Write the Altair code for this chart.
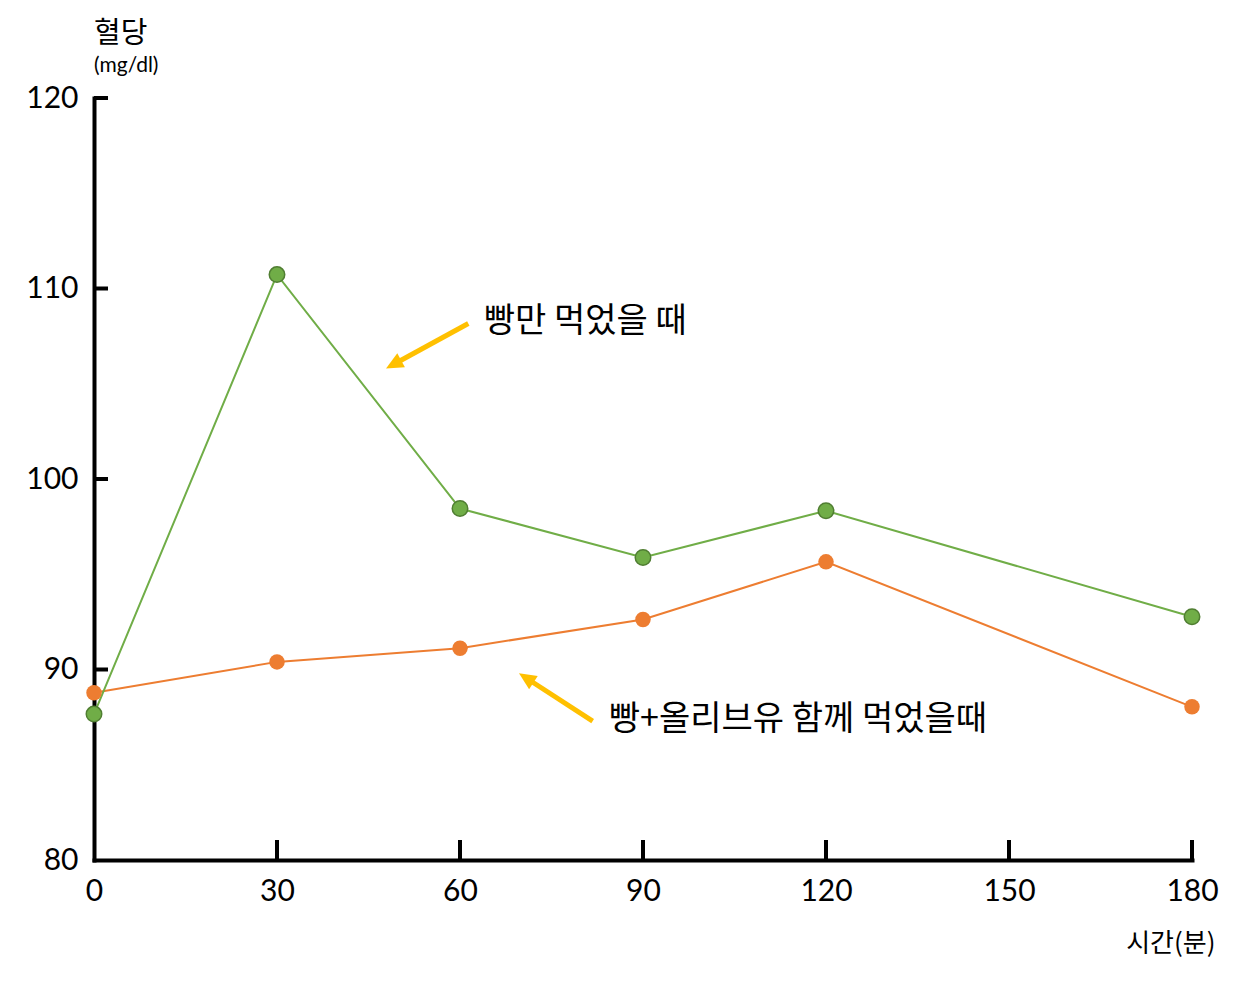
import altair as alt
import pandas as pd

# ---- data ----
times = [0, 30, 60, 90, 120, 180]
bread_only = [87.66, 110.73, 98.45, 95.88, 98.33, 92.77]          # 빵만 먹었을 때
bread_olive = [88.78, 90.40, 91.12, 92.63, 95.65, 88.04]          # 빵+올리브유 함께 먹었을때

x_ticks = [30, 60, 90, 120, 150, 180]
y_ticks = [90, 100, 110, 120]

ann_labels = ["빵만 먹었을 때", "빵+올리브유 함께 먹었을때"]
ann_text_x = [63.9, 84.4]
ann_text_y = [108.23, 87.35]
arrow_start_x = [61.36, 81.75]
arrow_start_y = [108.16, 87.29]
arrow_tip_x = [47.87, 69.67]
arrow_tip_y = [105.80, 89.80]
arrow_angle = [241.3, 302.9]

W, H = 1098, 762
GREEN, GREEN_DARK, ORANGE, GOLD = "#70AD47", "#507E32", "#ED7D31", "#FFC000"
KFONT = "Noto Sans CJK KR"
NFONT = "Lato"

df_g = pd.DataFrame({"t": times, "v": bread_only})
df_o = pd.DataFrame({"t": times, "v": bread_olive})
df_xt = pd.DataFrame({"t": x_ticks})
df_yt = pd.DataFrame({"v": y_ticks})
df_ann = pd.DataFrame({"label": ann_labels, "t": ann_text_x, "v": ann_text_y})
df_arr = pd.DataFrame({
    "sx": arrow_start_x, "sy": arrow_start_y,
    "tx": arrow_tip_x, "ty": arrow_tip_y, "ang": arrow_angle,
})
# shaft stops a little before the tip so the head covers the end
df_arr["ex"] = df_arr["tx"] + 0.15 * (df_arr["sx"] - df_arr["tx"])
df_arr["ey"] = df_arr["ty"] + 0.15 * (df_arr["sy"] - df_arr["ty"])

xs = alt.Scale(domain=[0, 180], nice=False, zero=False)
ys = alt.Scale(domain=[80, 120], nice=False, zero=False)

xaxis = alt.Axis(
    values=[0, 30, 60, 90, 120, 150, 180], ticks=False, grid=False,
    domainColor="black", domainWidth=4, domainCap="square",
    labelFont=NFONT, labelFontSize=30, labelColor="black", labelPadding=16,
    labelFlush=False, labelOverlap=False,
    title="시간(분)", titleFont=KFONT, titleFontSize=26, titleFontWeight="normal",
    titleColor="black", titleX=1121, titleY=83, titleAlign="right",
    titleBaseline="middle", titleAngle=0,
)
yaxis = alt.Axis(
    values=[80, 90, 100, 110, 120], ticks=False, grid=False,
    domainColor="black", domainWidth=4, domainCap="square",
    labelFont=NFONT, labelFontSize=30, labelColor="black", labelPadding=16,
    labelFlush=False, labelOverlap=False, labelBaseline="middle",
    title=None,
)


def X(f):
    return alt.X(f, type="quantitative", scale=xs, axis=xaxis)


def Y(f):
    return alt.Y(f, type="quantitative", scale=ys, axis=yaxis)


line_g = alt.Chart(df_g).mark_line(color=GREEN, strokeWidth=2).encode(x=X("t"), y=Y("v"))
line_o = alt.Chart(df_o).mark_line(color=ORANGE, strokeWidth=2).encode(x=X("t"), y=Y("v"))
pts_o = alt.Chart(df_o).mark_circle(
    color=ORANGE, size=240, opacity=1
).encode(x=X("t"), y=Y("v"))
pts_g = alt.Chart(df_g).mark_circle(
    color=GREEN, stroke=GREEN_DARK, strokeWidth=1.5, size=240, opacity=1
).encode(x=X("t"), y=Y("v"))

xt = alt.Chart(df_xt).mark_rule(color="black", strokeWidth=4).encode(
    x=X("t"), y=alt.value(H), y2=alt.value(H - 20)
)
yt = alt.Chart(df_yt).mark_rule(color="black", strokeWidth=4).encode(
    y=Y("v"), x=alt.value(0), x2=alt.value(14)
)

shaft = alt.Chart(df_arr).mark_rule(color=GOLD, strokeWidth=5).encode(
    x=X("sx"), y=Y("sy"), x2="ex", y2="ey"
)
head = alt.Chart(df_arr).mark_point(
    shape="M0,0L0.6,1.3L-0.6,1.3Z", filled=True, color=GOLD, size=700, opacity=1
).encode(x=X("tx"), y=Y("ty"), angle=alt.Angle("ang:Q", scale=None))

ann = alt.Chart(df_ann).mark_text(
    align="left", baseline="middle", font=KFONT, fontSize=34, color="black"
).encode(x=X("t"), y=Y("v"), text="label:N")

chart = alt.layer(
    xt, yt, shaft, head, ann, line_o, line_g, pts_o, pts_g
).properties(
    width=W, height=H,
    title=alt.TitleParams(
        text="혈당", subtitle="(mg/dl)", anchor="start", frame="group",
        font=KFONT, fontSize=29, fontWeight="normal", color="black",
        subtitleFont=NFONT, subtitleFontSize=21, subtitleColor="black",
        subtitlePadding=6, offset=7,
    ),
    autosize=alt.AutoSizeParams(type="none"),
    padding={"left": 86, "top": 90, "right": 40, "bottom": 110},
).configure_view(stroke=None)

chart.save("out.html", embed_options={"renderer": "svg", "actions": False})
